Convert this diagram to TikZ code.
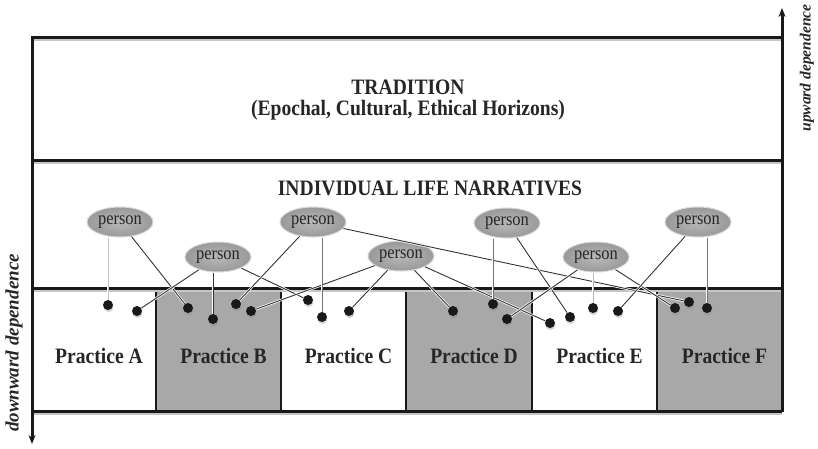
\documentclass[tikz,border=0pt]{standalone}
\usepackage{fontspec}
\setmainfont{Liberation Serif}
\newfontfamily\narrowserif[FakeStretch=0.89]{Liberation Serif}
\usetikzlibrary{arrows.meta, positioning, shapes.geometric, shadows}
\definecolor{PracticeGray}{gray}{0.66}

\begin{document}
\begin{tikzpicture}[x=1pt, y=-1pt, >=Stealth,
    person/.style={ellipse, draw=gray!30, line width=1pt, inner color=gray!55, outer color=gray!80,
        minimum width=66pt, minimum height=30pt, inner sep=0pt, text=black!85,
        font=\narrowserif\fontsize{18.5}{18.5}\selectfont},
    dot/.style={circle, fill=black!90, minimum size=10pt, inner sep=0pt,
        drop shadow={shadow xshift=0.5pt, shadow yshift=-2pt, opacity=0.35}},
    link/.style={draw=black!80, line width=0.9pt, preaction={draw=white, line width=2.4pt}},
    frameline/.style={line width=3pt, black!90},
    heading/.style={font=\narrowserif\bfseries\fontsize{22}{22}\selectfont, text=black!85, align=center},
    sidelabel/.style={text=black!85, rotate=90}]
        \useasboundingbox (0,0) rectangle (818,448);
        \fill[white] (0,0) rectangle (818,448);

        % Practice columns
        \foreach \name/\xl/\xr/\cellfill in {A/32/156/white, B/156/281/PracticeGray, C/281/406/white,
                D/406/532/PracticeGray, E/532/657/white, F/657/782/PracticeGray} {
            \fill[\cellfill] (\xl,288) rectangle (\xr,411);
            \node[heading] (practice\name) at ({(\xl+\xr)/2+5},356) {Practice \name};
        }
        \foreach \x in {156, 281, 406, 532, 657} {
            \draw[line width=2pt, black!90] (\x,288) -- (\x,411);
        }

        % Frame with shadows
        \foreach \y in {37, 160, 288, 411} {
            \draw[gray!45, line width=2pt] (34,\y+3) -- (782,\y+3);
            \draw[frameline] (32,\y) -- (782,\y);
        }
        \coordinate (uptip) at (782,8);
        \coordinate (upfoot) at (782,412);
        \coordinate (downtip) at (32,444);
        \coordinate (downfoot) at (32,35.5);
        \draw[frameline, -{Stealth[length=9pt, width=7pt]}] (upfoot) -- (uptip);
        \draw[frameline, -{Stealth[length=9pt, width=7pt]}] (downfoot) -- (downtip);
        \node[sidelabel, font=\bfseries\itshape\fontsize{15.5}{15.5}\selectfont] (upward) at (807,68) {upward dependence};
        \node[sidelabel, font=\bfseries\itshape\fontsize{19}{19}\selectfont] (downward) at (14,343) {downward dependence};

        % Layer titles
        \node[heading, font=\narrowserif\bfseries\fontsize{22}{21.5}\selectfont] (tradition) at (408,100) {TRADITION\\(Epochal, Cultural, Ethical Horizons)};
        \node[heading] (narratives) at (430,188) {INDIVIDUAL LIFE NARRATIVES};

        % Persons
        \foreach \n/\x/\y in {1/120/222, 2/218/257, 3/313/222, 4/401/256, 5/507/223, 6/596/257, 7/698/222} {
            \node[person] (p\n) at (\x,\y) {person};
        }

        % Dots in the practices
        \foreach \i/\x/\y in {1/108/305, 2/137/311, 3/188/308, 4/213/319, 5/236/304, 6/251/311,
                7/308/300, 8/322/317, 9/349/311, 10/453/311, 11/493/304, 12/507/319, 13/550/323,
                14/570/317, 15/593/308, 16/618/311, 17/675/308, 18/689/302, 19/707/308} {
            \node[dot] (d\i) at (\x,\y) {};
        }

        % Links
        \foreach \p/\d in {1/3, 2/2, 2/7, 3/5, 3/18, 4/6, 4/9, 4/10, 4/13, 5/14, 6/12, 6/17, 7/16} {
            \draw[link] (p\p) -- (d\d);
        }
        \foreach \p/\d/\shade in {1/1/gray!45, 2/4/black!80, 3/8/black!55, 5/11/black!55, 6/15/gray!55, 7/19/black!55} {
            \draw[link, draw=\shade] (d\d |- p\p.south) -- (d\d);
        }
    \end{tikzpicture}
\end{document}
